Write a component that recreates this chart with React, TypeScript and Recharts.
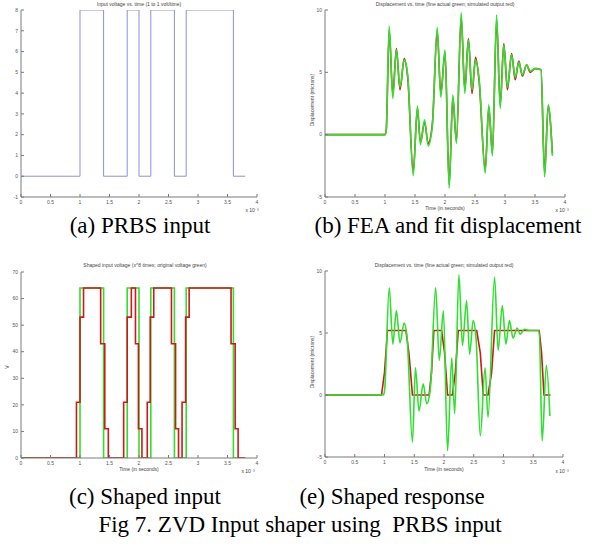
import React from 'react';
import { LineChart, Line, XAxis, YAxis } from 'recharts';

// time axis in units of 1e-3 s
const timeTicks = [0, 0.5, 1, 1.5, 2, 2.5, 3, 3.5, 4];

// (a) PRBS input voltage (step edges)
const prbsTime = [0, 1.0, 1.4, 1.8, 2.0, 2.2, 2.6, 2.8, 3.6, 3.8];
const prbsVolts = [0, 8, 0, 8, 0, 8, 0, 8, 0, 0];
const prbsTicks = [-1, 0, 1, 2, 3, 4, 5, 6, 7, 8];

// (b) FEA (green) and fitted model (red) displacement, peaks and troughs
const fitTime = [0, 1.0, 1.02, 1.07, 1.13, 1.19, 1.25, 1.32, 1.38, 1.47, 1.54, 1.59, 1.66, 1.72, 1.79, 1.87, 1.93, 2.0, 2.07, 2.13, 2.19, 2.27, 2.33, 2.39, 2.45, 2.51, 2.57, 2.67, 2.73, 2.79, 2.86, 2.92, 2.98, 3.04, 3.11, 3.17, 3.23, 3.29, 3.36, 3.42, 3.5, 3.6, 3.66, 3.72, 3.79];
const feaDisp = [0, 0, 0.3, 8.7, 2.9, 6.8, 3.8, 6.0, 4.7, -3.3, 2.3, -0.8, 1.2, -0.9, 0.75, 8.6, 3.0, 6.8, -4.3, 3.2, -0.7, 9.8, 3.3, 7.6, 3.6, 6.0, 4.4, -3.1, 2.4, -1.7, 9.6, 2.1, 7.2, 3.8, 6.4, 4.6, 5.8, 4.8, 5.6, 5.1, 5.3, 5.2, -3.4, 2.4, -1.7];
const fitDisp = [0, 0, 0.3, 8.4, 3.2, 6.9, 3.6, 6.1, 4.5, -3.0, 2.1, -0.6, 1.0, -0.7, 0.9, 8.3, 3.3, 6.6, -4.0, 3.0, -0.5, 9.4, 3.6, 7.7, 3.3, 6.2, 4.2, -2.8, 2.2, -1.5, 9.2, 2.4, 7.3, 3.6, 6.5, 4.4, 5.9, 4.7, 5.6, 5.0, 5.3, 5.2, -3.1, 2.3, -1.5];
const dispTicks = [-5, 0, 5, 10];

// (c) original voltage x8 (green) and ZVD shaped voltage (red)
const origVolts = [0, 64, 0, 64, 0, 64, 0, 64, 0, 0];
const shapedTime = [0, 0.94, 1.0, 1.06, 1.35, 1.42, 1.48, 1.74, 1.8, 1.87, 1.94, 1.99, 2.05, 2.14, 2.19, 2.25, 2.55, 2.62, 2.67, 2.73, 2.79, 2.85, 3.56, 3.63, 3.68, 3.8];
const shapedVolts = [0, 21, 53, 64, 43, 11, 0, 21, 53, 64, 43, 11, 0, 21, 53, 64, 43, 11, 0, 21, 53, 64, 43, 11, 0, 0];
const voltTicks = [0, 10, 20, 30, 40, 50, 60, 70];

// (e) shaped response: actual (green) and simulated (red)
const respTime = [0, 0.98, 1.0, 1.08, 1.14, 1.2, 1.26, 1.33, 1.38, 1.47, 1.52, 1.58, 1.65, 1.71, 1.77, 1.86, 1.92, 1.99, 2.06, 2.13, 2.18, 2.25, 2.31, 2.38, 2.43, 2.49, 2.54, 2.61, 2.69, 2.74, 2.85, 2.91, 2.98, 3.04, 3.1, 3.16, 3.23, 3.28, 3.35, 3.45, 3.6, 3.65, 3.72, 3.78];
const respActual = [0, 0, 0.3, 8.65, 4.1, 6.8, 4.2, 5.8, 4.6, -3.8, 2.2, -1.3, 0.9, -0.7, 0.5, 8.65, 2.8, 6.8, -4.5, 3.0, -1.5, 9.7, 4.0, 7.6, 3.3, 6.0, 4.5, -3.3, 2.2, -1.8, 9.5, 3.6, 7.2, 4.1, 6.0, 4.6, 5.4, 4.9, 5.3, 5.2, 5.2, -3.7, 2.4, -1.7];
const simTime = [0, 0.95, 1.0, 1.05, 1.36, 1.41, 1.47, 1.75, 1.79, 1.83, 1.96, 2.01, 2.06, 2.14, 2.19, 2.24, 2.55, 2.61, 2.66, 2.74, 2.8, 2.85, 3.6, 3.64, 3.68, 3.79];
const simDisp = [0, 0, 1.8, 5.2, 5.2, 3.4, 0, 0, 1.8, 5.2, 5.2, 3.4, 0, 0, 1.8, 5.2, 5.2, 3.4, 0, 0, 1.8, 5.2, 5.2, 3.4, 0, 0];

const GREEN = '#2fe02f';
const RED = '#d01818';
const BLUE = '#8f8fd6';
const AXIS = '#7a7a7a';

const zip = (t: number[], v: number[]) => t.map((x, i) => ({ t: x, v: v[i] }));

type Series = {
  data: { t: number; v: number }[];
  color: string;
  width: number;
  curve: 'linear' | 'monotone' | 'stepAfter';
};

type PanelProps = {
  x: number;
  y: number;
  w: number;
  h: number;
  mt: number;
  mr: number;
  yw: number;
  xh: number;
  yDomain: [number, number];
  yTicks: number[];
  series: Series[];
};

const tickStyle = { fontSize: 5, fill: '#555', fontFamily: 'Liberation Sans, Arial, sans-serif' };

const Panel = ({ x, y, w, h, mt, mr, yw, xh, yDomain, yTicks, series }: PanelProps) => (
  <div style={{ position: 'absolute', left: x, top: y, width: w, height: h }}>
    <LineChart width={w} height={h} margin={{ top: mt, right: mr, left: 0, bottom: 0 }}>
      <XAxis xAxisId="b" type="number" dataKey="t" domain={[0, 4]} ticks={timeTicks} interval={0}
        allowDataOverflow height={xh} stroke={AXIS} tick={tickStyle} tickSize={-3} tickMargin={6} />
      <XAxis xAxisId="t" orientation="top" type="number" dataKey="t" domain={[0, 4]} ticks={timeTicks}
        interval={0} allowDataOverflow height={0} stroke={AXIS} tick={false} tickSize={-3} />
      <YAxis yAxisId="l" type="number" domain={yDomain} ticks={yTicks} interval={0} allowDataOverflow
        width={yw} stroke={AXIS} tick={tickStyle} tickSize={-3} tickMargin={6} />
      <YAxis yAxisId="r" orientation="right" type="number" domain={yDomain} ticks={yTicks} interval={0}
        allowDataOverflow width={0} stroke={AXIS} tick={false} tickSize={-3} />
      {series.map((s, i) => (
        <Line key={i} xAxisId="b" yAxisId="l" data={s.data} dataKey="v" type={s.curve}
          stroke={s.color} strokeWidth={s.width} dot={false} isAnimationActive={false} />
      ))}
    </LineChart>
  </div>
);

const small = { fontSize: 5, fill: '#444', fontFamily: 'Liberation Sans, Arial, sans-serif' };
const serif = { fontSize: 23, fill: '#000', fontFamily: 'Liberation Serif, Times New Roman, serif', whiteSpace: 'pre' as const };

export default function App() {
  return (
    <div style={{ position: 'absolute', left: 0, top: 0, width: 608, height: 547, background: '#fff' }}>
      <Panel x={0} y={0} w={265} h={215} mt={10} mr={8} yw={21} xh={18} yDomain={[-1, 8]} yTicks={prbsTicks}
        series={[{ data: zip(prbsTime, prbsVolts), color: BLUE, width: 1, curve: 'stepAfter' }]} />
      <Panel x={290} y={0} w={285} h={215} mt={10} mr={10} yw={35} xh={18} yDomain={[-5, 10]} yTicks={dispTicks}
        series={[
          { data: zip(fitTime, fitDisp), color: RED, width: 1.6, curve: 'monotone' },
          { data: zip(fitTime, feaDisp), color: GREEN, width: 1.6, curve: 'monotone' },
        ]} />
      <Panel x={0} y={258} w={265} h={218} mt={14} mr={8} yw={21} xh={18} yDomain={[0, 70]} yTicks={voltTicks}
        series={[
          { data: zip(prbsTime, origVolts), color: GREEN, width: 1.6, curve: 'stepAfter' },
          { data: zip(shapedTime, shapedVolts), color: RED, width: 1.6, curve: 'stepAfter' },
        ]} />
      <Panel x={290} y={258} w={283} h={217} mt={13} mr={10} yw={35} xh={18} yDomain={[-5, 10]} yTicks={dispTicks}
        series={[
          { data: zip(simTime, simDisp), color: RED, width: 1.6, curve: 'linear' },
          { data: zip(respTime, respActual), color: GREEN, width: 1.6, curve: 'monotone' },
        ]} />

      <svg width={608} height={547} style={{ position: 'absolute', left: 0, top: 0, pointerEvents: 'none' }}>
        <text x={139} y={6} textAnchor="middle" style={small}>Input voltage vs. time (1 to 1 volt/time)</text>
        <text x={445} y={6} textAnchor="middle" style={small}>Displacement vs. time (fine actual green; simulated output red)</text>
        <text x={145} y={267} textAnchor="middle" style={small}>Shaped input voltage (x^8 times; original voltage green)</text>
        <text x={444} y={267} textAnchor="middle" style={small}>Displacement vs. time (fine actual green; simulated output red)</text>

        <text x={252} y={212} textAnchor="middle" style={small}>x 10⁻³</text>
        <text x={562} y={212} textAnchor="middle" style={small}>x 10⁻³</text>
        <text x={248} y={473} textAnchor="middle" style={small}>x 10⁻³</text>
        <text x={562} y={473} textAnchor="middle" style={small}>x 10⁻³</text>

        <text x={445} y={210} textAnchor="middle" style={small}>Time (in seconds)</text>
        <text x={139} y={471} textAnchor="middle" style={small}>Time (in seconds)</text>
        <text x={444} y={471} textAnchor="middle" style={small}>Time (in seconds)</text>

        <text x={314} y={100} textAnchor="middle" transform="rotate(-90 314 100)" style={small}>Displacement (microns)</text>
        <text x={314} y={362} textAnchor="middle" transform="rotate(-90 314 362)" style={small}>Displacement (microns)</text>
        <text x={9} y={367} textAnchor="middle" transform="rotate(-90 9 367)" style={small}>V</text>

        <text x={140} y={233} textAnchor="middle" style={serif}>(a) PRBS input</text>
        <text x={448} y={233} textAnchor="middle" style={serif}>(b) FEA and fit displacement</text>
        <text x={145} y={504} textAnchor="middle" style={serif}>(c) Shaped input</text>
        <text x={392} y={504} textAnchor="middle" style={serif}>(e) Shaped response</text>
        <text x={300} y={532} textAnchor="middle" style={serif}>Fig 7. ZVD Input shaper using  PRBS input</text>
      </svg>
    </div>
  );
}
